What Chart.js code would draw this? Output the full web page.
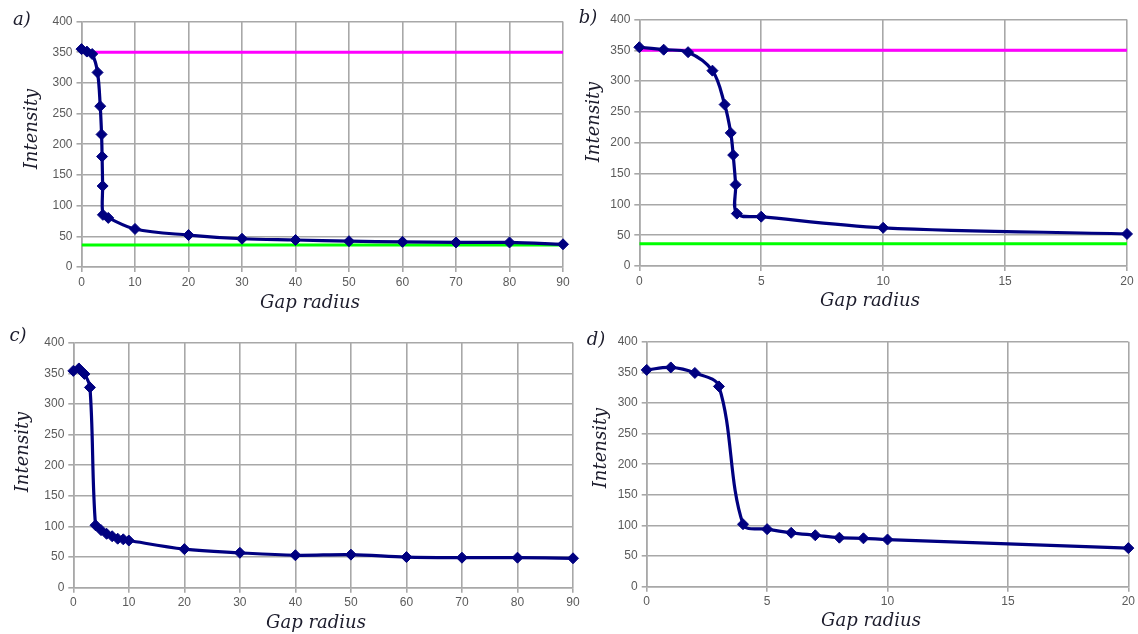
<!DOCTYPE html>
<html><head><meta charset="utf-8">
<script src="https://cdn.jsdelivr.net/npm/chart.js@4"></script>
<style>
body{margin:0;background:#fff;width:1138px;height:634px;overflow:hidden;position:relative}
canvas{position:absolute}
.lbl{position:absolute;font-family:"DejaVu Serif","Liberation Serif",serif;font-style:italic;color:#1c1c2c;white-space:nowrap;font-size:18px;line-height:1}
.yt{transform:translate(-50%,-50%) rotate(-90deg)}
.xt{transform:translate(-50%,-50%)}
</style></head><body>
<canvas id="ca" width="575" height="318" style="left:0;top:0"></canvas>
<canvas id="cb" width="568" height="318" style="left:570px;top:0"></canvas>
<canvas id="cc" width="585" height="316" style="left:0;top:318px"></canvas>
<canvas id="cd" width="568" height="316" style="left:570px;top:318px"></canvas>

<div class="lbl xt" style="left:22px;top:19px">a)</div>
<div class="lbl xt" style="left:588px;top:17px">b)</div>
<div class="lbl xt" style="left:18px;top:335px">c)</div>
<div class="lbl xt" style="left:596px;top:339px">d)</div>

<div class="lbl yt" style="left:31px;top:129px">Intensity</div>
<div class="lbl yt" style="left:593px;top:122px">Intensity</div>
<div class="lbl yt" style="left:22px;top:452px">Intensity</div>
<div class="lbl yt" style="left:600px;top:448px">Intensity</div>

<div class="lbl xt" style="left:310px;top:302px">Gap radius</div>
<div class="lbl xt" style="left:870px;top:300px">Gap radius</div>
<div class="lbl xt" style="left:316px;top:622px">Gap radius</div>
<div class="lbl xt" style="left:871px;top:620px">Gap radius</div>

<script>
// ---- data ----
const gapAB = [0, 1, 2, 3, 3.5, 3.75, 3.85, 3.95, 4, 5, 10, 20, 30, 40, 50, 60, 70, 80, 90];
const intensityAB = [355, 351, 347, 317, 262, 216, 180, 132, 85, 80, 62, 52, 46, 44, 42, 41, 40, 40, 37];
const upperLevel = 350;
const lowerLevel = 36;
const gapCD = [0, 1, 2, 3, 4, 5, 6, 7, 8, 9, 10, 20, 30, 40, 50, 60, 70, 80, 90];
const intensityCD = [354, 358, 349, 327, 102, 94, 88, 84, 80, 79, 77, 63, 57, 53, 54, 50, 49, 49, 48];
const yTicks = [0, 50, 100, 150, 200, 250, 300, 350, 400];
const xMaxFull = 90, xStepFull = 10;
const xMaxZoom = 20, xStepZoom = 5;

const NAVY = '#000080';
const GRID = '#a8a8a8';

function pts(xs, ys, maxX) {
  const out = [];
  for (let i = 0; i < xs.length; i++) if (xs[i] <= maxX) out.push({x: xs[i], y: ys[i]});
  return out;
}
function flat(v, maxX) { return [{x: 0, y: v}, {x: maxX, y: v}]; }

function makeChart(id, xs, ys, maxX, step, levels, box) {
  const datasets = [{
    data: pts(xs, ys, maxX),
    borderColor: NAVY, backgroundColor: NAVY, borderWidth: 3.2,
    pointStyle: 'rectRot', pointRadius: 5.5, pointBorderWidth: 1,
    tension: 0.35, clip: false
  }];
  if (levels) {
    datasets.push({data: flat(upperLevel, maxX), borderColor: '#ff00ff', borderWidth: 3, pointRadius: 0, tension: 0});
    datasets.push({data: flat(lowerLevel, maxX), borderColor: '#00ff00', borderWidth: 3, pointRadius: 0, tension: 0});
  }
  const tickFont = {family: '"Liberation Sans", Arial, sans-serif', size: 12};
  return new Chart(document.getElementById(id), {
    type: 'scatter',
    data: {datasets},
    options: {
      responsive: false, animation: false, devicePixelRatio: 1,
      showLine: true,
      layout: {padding: {top: box.top, right: box.right, left: 0, bottom: 0}},
      plugins: {legend: {display: false}, tooltip: {enabled: false}},
      scales: {
        x: {
          type: 'linear', min: 0, max: maxX,
          ticks: {stepSize: step, color: '#5a5a5a', font: tickFont, padding: 3, maxRotation: 0},
          grid: {color: GRID, lineWidth: 1.6, tickLength: 5, tickColor: GRID},
          border: {color: GRID, width: 1.6},
          afterFit: s => { s.height = box.xh; }
        },
        y: {
          type: 'linear', min: 0, max: 400,
          afterBuildTicks: s => { s.ticks = yTicks.map(v => ({value: v})); },
          ticks: {color: '#5a5a5a', font: tickFont, padding: 4},
          grid: {color: GRID, lineWidth: 1.6, tickLength: 5, tickColor: GRID},
          border: {color: GRID, width: 1.6},
          afterFit: s => { s.width = box.yw; }
        }
      }
    }
  });
}

makeChart('ca', gapAB, intensityAB, xMaxFull, xStepFull, true, {top: 21.5, right: 12, xh: 51, yw: 81.5});
makeChart('cb', gapAB, intensityAB, xMaxZoom, xStepZoom, true, {top: 19.5, right: 11, xh: 52, yw: 69.3});
makeChart('cc', gapCD, intensityCD, xMaxFull, xStepFull, false, {top: 24.7, right: 12, xh: 46.3, yw: 73.3});
makeChart('cd', gapCD, intensityCD, xMaxZoom, xStepZoom, false, {top: 23.7, right: 9, xh: 47.3, yw: 76.7});
</script>
</body></html>
